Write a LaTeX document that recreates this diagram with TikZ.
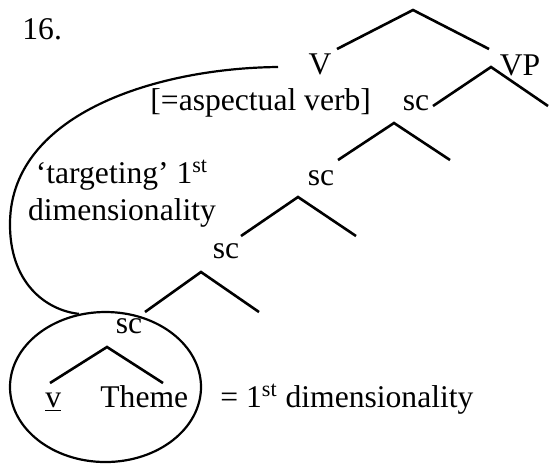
\documentclass[tikz,border=0pt]{standalone}
\usepackage{fontspec}
\setmainfont{Liberation Serif}
\usetikzlibrary{shapes.geometric}

\begin{document}
\begin{tikzpicture}[
  x=0.5pt, y=-0.5pt,
  font=\fontsize{15.8}{19}\selectfont,
  lbl/.style={inner sep=0pt, anchor=base},
  branch/.style={line width=1.3pt},
  curl/.style={line width=1.1pt}
]
\useasboundingbox (0,0) rectangle (549,463);

% labels
\node[lbl, anchor=base west] (num) at (22,39) {16.};
\node[lbl] (V) at (320,74) {V};
\node[lbl] (VP) at (520,75) {VP};
\node[lbl, anchor=base west] (asp) at (150,110) {[=aspectual verb]};
\node[lbl] (sc1) at (416,110) {sc};
\node[lbl] (sc2) at (321,185) {sc};
\node[lbl] (sc3) at (226,258) {sc};
\node[lbl] (sc4) at (129,333) {sc};
\node[lbl] (targ) at (122,183) {‘targeting’ 1\textsuperscript{st}};
\node[lbl] (dim) at (122,220) {dimensionality};
\node[lbl, anchor=base west] (v) at (45,407) {\underline{v}};
\node[lbl, anchor=base west] (theme) at (100,407) {Theme};
\node[lbl, anchor=base west] (eq) at (220,407) {= 1\textsuperscript{st} dimensionality};

% the circled small clause
\node[draw, curl, ellipse, inner sep=0pt, minimum width=95.5pt, minimum height=75pt] (grp) at (105.5,387) {};

% branch points
\coordinate (top) at (413,10);   \coordinate (topL) at (337,49);  \coordinate (topR) at (489,49);
\coordinate (vp) at (491,67);    \coordinate (vpL) at (433,106);  \coordinate (vpR) at (548,106);
\coordinate (s1) at (394,123);   \coordinate (s1L) at (338,160);  \coordinate (s1R) at (450,160);
\coordinate (s2) at (298,197);   \coordinate (s2L) at (241,236);  \coordinate (s2R) at (356,236);
\coordinate (s3) at (201,272);   \coordinate (s3L) at (145,312);  \coordinate (s3R) at (259,312);
\coordinate (s4) at (107,347);   \coordinate (s4L) at (50,383);   \coordinate (s4R) at (163,383);

\draw[branch] (topL) -- (top) -- (topR);
\draw[branch] (vpL) -- (vp) -- (vpR);
\draw[branch] (s1L) -- (s1) -- (s1R);
\draw[branch] (s2L) -- (s2) -- (s2R);
\draw[branch] (s3L) -- (s3) -- (s3R);
\draw[branch] (s4L) -- (s4) -- (s4R);

% targeting curve
\coordinate (cstart) at (278,67);
\draw[curl] (cstart) .. controls (160,68) and (12,112) .. (10,222)
  .. controls (9,282) and (45,310) .. (grp.110);
\end{tikzpicture}
\end{document}
